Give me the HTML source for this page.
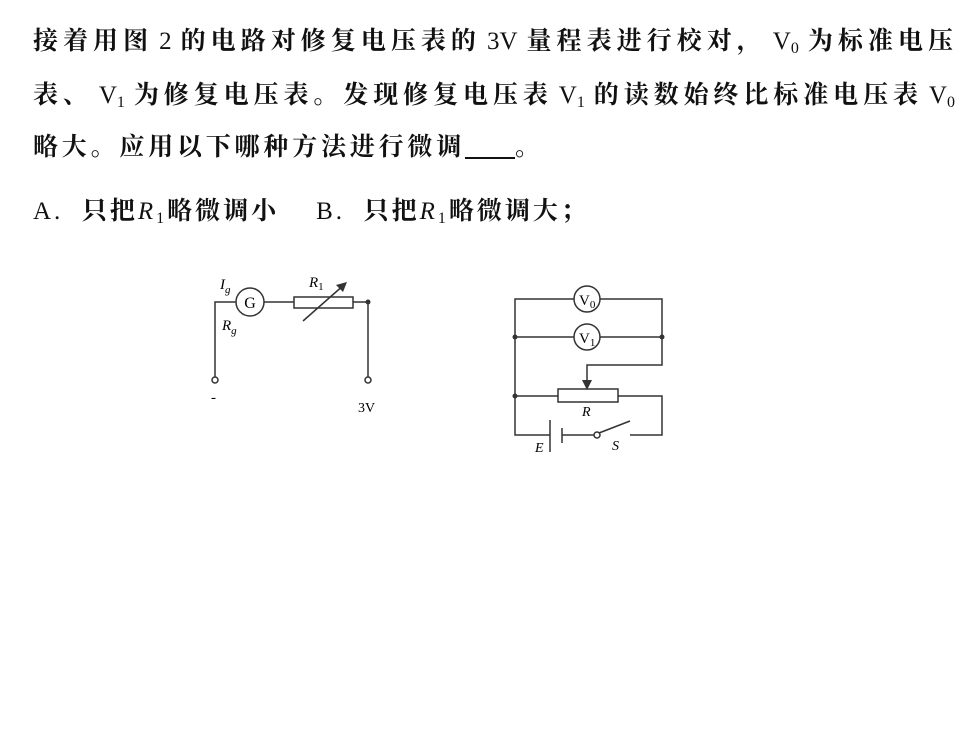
<!DOCTYPE html>
<html><head><meta charset="utf-8"><style>
body{margin:0;width:980px;height:733px;background:#fff;position:relative;overflow:hidden}
.l{position:absolute;left:33px;font-family:"Liberation Serif","Noto Serif CJK SC",serif;font-weight:bold;font-size:25px;letter-spacing:2px;color:#111;white-space:nowrap;line-height:30px}
.j{width:922px;text-align:justify;text-align-last:justify;white-space:normal}
.n{font-weight:normal;margin:0 6px;letter-spacing:0}
sub{font-size:16px;vertical-align:-4px;font-weight:normal}
i{font-weight:normal}
.u{display:inline-block;width:50px;border-bottom:2px solid #111;height:24px;vertical-align:-4px}
</style></head><body>
<div class="l j" style="top:27px">接着用图<span class="n">2</span>的电路对修复电压表的<span class="n">3V</span>量程表进行校对，<span class="n">V<sub>0</sub></span>为标准电压</div>
<div class="l j" style="top:81px">表、<span class="n">V<sub>1</sub></span>为修复电压表。发现修复电压表<span class="n">V<sub>1</sub></span>的读数始终比标准电压表<span class="n" style="margin-right:0">V<sub>0</sub></span></div>
<div class="l" style="top:133px;letter-spacing:3.8px">略大。应用以下哪种方法进行微调<span class="u"></span>。</div>
<div class="l" style="top:197px;letter-spacing:3px"><span style="font-weight:normal">A.</span>&nbsp; 只把<i>R</i><sub>1</sub>略微调小 &nbsp;&nbsp; <span style="font-weight:normal">B.</span>&nbsp; 只把<i>R</i><sub>1</sub>略微调大；</div>
<svg width="980" height="733" style="position:absolute;left:0;top:0" font-family="Liberation Serif,serif">
<g stroke="#333" stroke-width="1.5" fill="none">
<circle cx="250" cy="302" r="14"/>
<path d="M236 302H215V377M264 302H294M353 302H368V377"/>
<rect x="294" y="297" width="59" height="11"/>
<path d="M303 321L345 284"/>
<circle cx="215" cy="380" r="3"/><circle cx="368" cy="380" r="3"/>
</g>
<polygon points="347,282 336,285 343,292" fill="#333"/>
<circle cx="368" cy="302" r="2.5" fill="#333"/>
<text x="250" y="308" font-size="16" text-anchor="middle">G</text>
<text x="220" y="289" font-size="15" font-style="italic">I<tspan font-size="11" dy="4">g</tspan></text>
<text x="222" y="330" font-size="15" font-style="italic">R<tspan font-size="11" dy="4">g</tspan></text>
<text x="309" y="287" font-size="15" font-style="italic">R<tspan font-size="11" dy="3" font-style="normal">1</tspan></text>
<text x="211" y="402" font-size="15">-</text>
<text x="358" y="412" font-size="14">3V</text>
<g stroke="#333" stroke-width="1.5" fill="none">
<circle cx="587" cy="299" r="13"/><circle cx="587" cy="337" r="13"/>
<path d="M574 299H515V435H550M600 299H662V365H587V388M574 337H515M600 337H662"/>
<rect x="558" y="389" width="60" height="13"/>
<path d="M515 396H558M618 396H662V435H630M550 420V452M562 428V443M562 435H594M599 433L630 421"/>
<circle cx="597" cy="435" r="3"/>
</g>
<polygon points="582,380 592,380 587,390" fill="#333"/>
<circle cx="515" cy="337" r="2.5" fill="#333"/><circle cx="662" cy="337" r="2.5" fill="#333"/><circle cx="515" cy="396" r="2.5" fill="#333"/>
<text x="579" y="305" font-size="15">V<tspan font-size="11" dy="3">0</tspan></text>
<text x="579" y="343" font-size="15">V<tspan font-size="11" dy="3">1</tspan></text>
<text x="582" y="416" font-size="14" font-style="italic">R</text>
<text x="535" y="452" font-size="14" font-style="italic">E</text>
<text x="612" y="450" font-size="14" font-style="italic">S</text>
</svg>
</body></html>
